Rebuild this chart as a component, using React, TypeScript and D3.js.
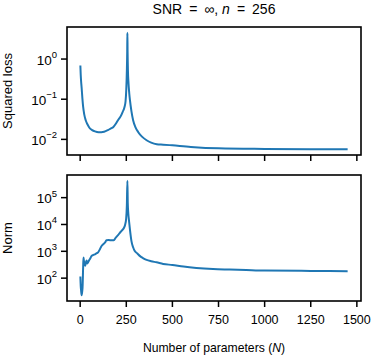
import React from "react";
import * as d3 from "d3";

// values
const nLoss = [1, 3, 5, 8, 12, 16, 22, 30, 40, 50, 65, 80, 100, 115, 130, 150, 165, 180, 195, 205, 220, 230, 240, 246, 250, 253, 255, 256, 257, 259, 262, 266, 270, 278, 287, 300, 315, 335, 360, 385, 415, 450, 500, 600, 750, 1000, 1250, 1450];
const lossValues = [0.69, 0.4, 0.28, 0.19, 0.105, 0.065, 0.042, 0.03, 0.0234, 0.0195, 0.017, 0.0158, 0.0151, 0.0151, 0.0155, 0.017, 0.0186, 0.0204, 0.0251, 0.03, 0.038, 0.048, 0.063, 0.089, 0.178, 0.5, 1.58, 4.5, 1.58, 0.5, 0.25, 0.141, 0.093, 0.05, 0.03, 0.02, 0.0151, 0.0117, 0.0095, 0.0083, 0.0076, 0.0074, 0.0071, 0.0065, 0.006, 0.0058, 0.0057, 0.0057];

const nNorm = [1, 3, 5, 8, 11, 13, 16, 18, 20, 22, 25, 27, 31, 35, 39, 43, 48, 53, 62, 70, 80, 90, 97, 107, 116, 125, 134, 143, 155, 170, 182, 193, 205, 215, 227, 237, 244, 249, 253, 256, 258, 261, 265, 270, 278, 287, 296, 310, 323, 340, 360, 385, 414, 450, 500, 560, 630, 720, 811, 900, 1000, 1250, 1450];
const normValues = [115, 50, 35, 23, 32, 47, 250, 590, 450, 390, 316, 290, 380, 450, 355, 390, 457, 513, 676, 724, 776, 851, 912, 1200, 1585, 1820, 2090, 2570, 2630, 2570, 2570, 3240, 3980, 4900, 6030, 7410, 10000, 15800, 50100, 427000, 63100, 25100, 13200, 6310, 2400, 1410, 1020, 832, 676, 562, 479, 427, 389, 339, 309, 269, 240, 219, 209, 200, 191, 186, 182];

const xTicks = [0, 250, 500, 750, 1000, 1250, 1500];
const lossTicks = [0, -1, -2];
const normTicks = [2, 3, 4, 5];

const W = 373;
const H = 359;
const left = 67;
const right = 361;
const topPanel = { y0: 27, y1: 155 };
const botPanel = { y0: 175, y1: 301 };
const font = "'Liberation Sans', Arial, Helvetica, sans-serif";
const blue = "#1f77b4";

// matplotlib style 5% padding
const pad = (lo: number, hi: number) => {
  const m = (hi - lo) * 0.05;
  return [lo - m, hi + m];
};

const x = d3.scaleLinear()
  .domain(pad(d3.min(nLoss)!, d3.max(nLoss)!))
  .range([left, right]);

const logScale = (vals: number[], p: { y0: number; y1: number }) => {
  const [lo, hi] = pad(Math.log10(d3.min(vals)!), Math.log10(d3.max(vals)!));
  return d3.scaleLog().domain([10 ** lo, 10 ** hi]).range([p.y1, p.y0]);
};

const yLoss = logScale(lossValues, topPanel);
const yNorm = logScale(normValues, botPanel);

const Panel = ({ ns, vals, y, p, ticks, showX }: any) => {
  const line = d3.line<number>()
    .x((_, i) => x(ns[i]))
    .y((d) => y(d))
    .curve(d3.curveMonotoneX);
  return (
    <g>
      <path d={line(vals) || ""} fill="none" stroke={blue} strokeWidth={2} strokeLinejoin="round" />
      <rect x={left} y={p.y0} width={right - left} height={p.y1 - p.y0} fill="none" stroke="#000" strokeWidth={1.6} />
      {ticks.map((e: number) => (
        <g key={e} transform={`translate(0,${y(10 ** e)})`}>
          <line x1={left - 6} x2={left} stroke="#000" strokeWidth={1.5} />
          <text x={57} y={5.5} textAnchor="end" fontSize={13.5} fontFamily={font}>
            10
            <tspan dy={-6.5} fontSize={9.5}>{e < 0 ? `\u2212${-e}` : e}</tspan>
          </text>
        </g>
      ))}
      {xTicks.map((t) => (
        <g key={t} transform={`translate(${x(t)},0)`}>
          <line y1={p.y1} y2={p.y1 + 6} stroke="#000" strokeWidth={1.5} />
          {showX && (
            <text y={p.y1 + 23} textAnchor="middle" fontSize={12.5} fontFamily={font}>{t}</text>
          )}
        </g>
      ))}
    </g>
  );
};

export default function App() {
  const cx = (left + right) / 2;
  return (
    <div style={{ position: "absolute", left: 0, top: 0, background: "#fff" }}>
      <svg width={W} height={H} style={{ display: "block" }}>
        <text x={cx} y={14} textAnchor="middle" fontSize={14} fontFamily={font}>
          SNR{"\u2002"}={"\u2002"}∞,{" "}
          <tspan fontStyle="italic">n</tspan>
          {"\u2002"}={"\u2002"}256
        </text>
        <Panel ns={nLoss} vals={lossValues} y={yLoss} p={topPanel} ticks={lossTicks} showX={false} />
        <Panel ns={nNorm} vals={normValues} y={yNorm} p={botPanel} ticks={normTicks} showX={true} />
        <text transform={`translate(12,${(topPanel.y0 + topPanel.y1) / 2}) rotate(-90)`} textAnchor="middle" fontSize={13} fontFamily={font}>
          Squared loss
        </text>
        <text transform={`translate(12,${(botPanel.y0 + botPanel.y1) / 2}) rotate(-90)`} textAnchor="middle" fontSize={13} fontFamily={font}>
          Norm
        </text>
        <text x={cx} y={352} textAnchor="middle" fontSize={12.2} fontFamily={font}>
          Number of parameters (<tspan fontStyle="italic">N</tspan>)
        </text>
      </svg>
    </div>
  );
}
